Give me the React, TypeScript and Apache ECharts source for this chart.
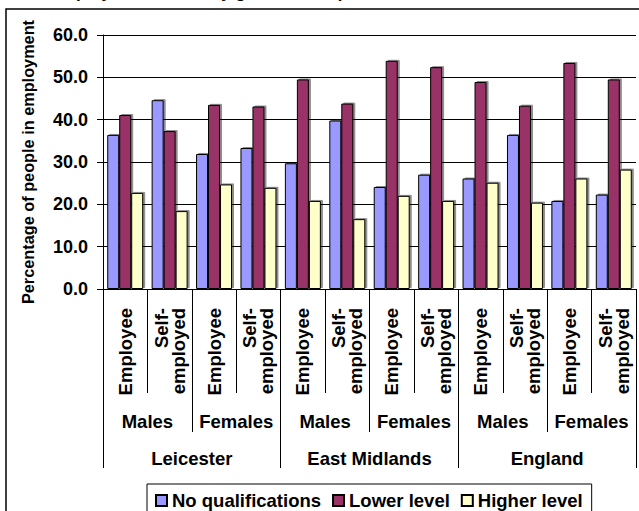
import React, { useEffect, useRef } from "react";
import * as echarts from "echarts";

const typeLabels = [
  "Employee", "Self-\nemployed", "Employee", "Self-\nemployed",
  "Employee", "Self-\nemployed", "Employee", "Self-\nemployed",
  "Employee", "Self-\nemployed", "Employee", "Self-\nemployed",
];
const genderLabels = ["Males", "Females", "Males", "Females", "Males", "Females"];
const regionLabels = ["Leicester", "East Midlands", "England"];
const seriesNames = ["No qualifications", "Lower level", "Higher level"];
const noQualifications = [36.4, 44.6, 31.9, 33.3, 29.7, 39.8, 24.1, 27.0, 26.1, 36.4, 20.8, 22.3];
const lowerLevel = [41.1, 37.3, 43.5, 43.1, 49.5, 43.8, 53.9, 52.4, 48.9, 43.3, 53.4, 49.5];
const higherLevel = [22.7, 18.4, 24.7, 23.9, 20.8, 16.5, 22.0, 20.8, 25.1, 20.4, 26.1, 28.2];
const yMin = 0;
const yMax = 60;
const yInterval = 10;
const yAxisTitle = "Percentage of people in employment";
const chartTitle = "Employment status by gender and qualification level";

const FONT = "'Liberation Sans', Arial, sans-serif";
const colors = ["#9999FF", "#993366", "#FFFFCC"];

export default function App() {
  const ref = useRef<HTMLDivElement>(null);
  useEffect(() => {
    if (!ref.current) return;
    const chart = echarts.init(ref.current, undefined, { renderer: "svg" });
    const base = { fontFamily: FONT, fontWeight: "bold" as const, color: "#000" };
    const values = [noQualifications, lowerLevel, higherLevel];
    chart.setOption({
      animation: false,
      textStyle: { fontFamily: FONT },
      graphic: [
        {
          type: "rect",
          shape: { x: 6, y: 9, width: 700, height: 600 },
          style: { fill: "none", stroke: "#000", lineWidth: 1.5 },
          silent: true,
        },
        {
          type: "text",
          x: 262,
          y: 1,
          style: {
            text: chartTitle,
            fontFamily: FONT,
            fontWeight: "bold",
            fontSize: 17,
            fill: "#000",
            align: "center",
            verticalAlign: "bottom",
          },
          silent: true,
        },
      ],
      legend: {
        left: 147,
        top: 484,
        orient: "horizontal",
        icon: "rect",
        itemWidth: 11,
        itemHeight: 11,
        itemGap: 11,
        padding: [7, 9, 8, 8],
        borderColor: "#000",
        borderWidth: 1,
        textStyle: { ...base, fontSize: 18.5, padding: [0, 0, 0, 0] },
        data: seriesNames,
      },
      grid: { left: 103, top: 35, right: 3, bottom: 222, containLabel: false },
      xAxis: [
        {
          type: "category",
          data: typeLabels,
          position: "bottom",
          axisLine: { show: true, lineStyle: { color: "#000", width: 1 } },
          axisTick: { show: true, interval: 0, length: 104, lineStyle: { color: "#000" } },
          axisLabel: { ...base, fontSize: 18.5, interval: 0, rotate: 90, margin: 19, lineHeight: 17 },
        },
        {
          type: "category",
          data: genderLabels,
          position: "bottom",
          axisLine: { show: false },
          axisTick: { show: true, interval: 0, length: 143, lineStyle: { color: "#000" } },
          axisLabel: { ...base, fontSize: 18.5, interval: 0, margin: 132, verticalAlign: "middle" },
        },
        {
          type: "category",
          data: regionLabels,
          position: "bottom",
          axisLine: { show: false },
          axisTick: { show: true, interval: 0, length: 179, lineStyle: { color: "#000" } },
          axisLabel: { ...base, fontSize: 18.5, interval: 0, margin: 169, verticalAlign: "middle" },
        },
      ],
      yAxis: {
        type: "value",
        min: yMin,
        max: yMax,
        interval: yInterval,
        name: yAxisTitle,
        nameLocation: "middle",
        nameGap: 67,
        nameTextStyle: { ...base, fontSize: 16.3 },
        axisLine: { show: true, lineStyle: { color: "#000", width: 1 } },
        axisTick: { show: true, length: 6, lineStyle: { color: "#000" } },
        axisLabel: { ...base, fontSize: 18, margin: 15, formatter: (v: number) => v.toFixed(1) },
        splitLine: { show: true, lineStyle: { color: "#000", width: 1 } },
      },
      series: seriesNames.map((name, i) => ({
        name,
        type: "bar",
        xAxisIndex: 0,
        data: values[i],
        barGap: "0%",
        barCategoryGap: "19%",
        itemStyle: {
          color: colors[i],
          borderColor: "#000",
          borderWidth: 1,
          shadowColor: "rgba(0,0,0,0.45)",
          shadowOffsetX: 2,
          shadowOffsetY: -1,
          shadowBlur: 0,
        },
      })),
    });
    return () => chart.dispose();
  }, []);
  return (
    <div
      ref={ref}
      style={{ position: "fixed", left: 0, top: 0, width: 639, height: 511, background: "#fff" }}
    />
  );
}
